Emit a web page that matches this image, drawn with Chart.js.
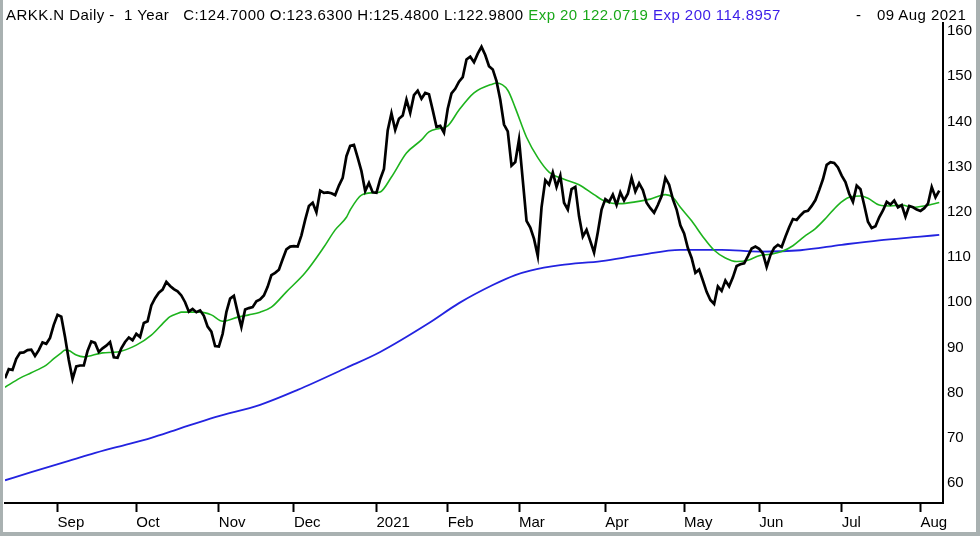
<!DOCTYPE html>
<html>
<head>
<meta charset="utf-8">
<title>ARKK.N Daily - 1 Year</title>
<script src="https://cdn.jsdelivr.net/npm/chart.js@4.4.1/dist/chart.umd.min.js"></script>
<style>
  html, body { margin: 0; padding: 0; background: #fff; }
  #wrap { position: relative; width: 980px; height: 536px; overflow: hidden; background: #fff; }
  #chart { position: absolute; left: 0; top: 0; }
  .hdr { position: absolute; top: 6px; font: 15px "Liberation Sans", Arial, sans-serif; line-height: 17px; letter-spacing: 0.45px; white-space: pre; color: #000; }
  .g { color: #1aa81a; }
  .b { color: #3b1de8; }
  .edge { position: absolute; background: #a9b1b1; }
</style>
</head>
<body>
<div id="wrap">
  <canvas id="chart" width="980" height="536"></canvas>
  <div class="hdr" style="left:6px">ARKK.N Daily -  1 Year   C:124.7000 O:123.6300 H:125.4800 L:122.9800 <span class="g">Exp 20 122.0719</span> <span class="b">Exp 200 114.8957</span></div>
  <div class="hdr" style="left:856px">-</div>
  <div class="hdr" style="left:877px">09 Aug 2021</div>
  <div class="edge" style="left:0;top:0;width:3px;height:536px"></div>
  <div class="edge" style="left:976px;top:0;width:4px;height:536px"></div>
  <div class="edge" style="left:0;top:532px;width:980px;height:4px"></div>
</div>
<script>
// trading-day index of the first session of each month, and its label
const monthIdx = [14, 35, 57, 77, 99, 118, 137, 160, 181, 201, 223, 244];
const monthLabels = ["Sep", "Oct", "Nov", "Dec", "2021", "Feb", "Mar", "Apr", "May", "Jun", "Jul", "Aug"];
const yTicks = [60, 70, 80, 90, 100, 110, 120, 130, 140, 150, 160];

// daily close, 12 Aug 2020 .. 09 Aug 2021 (250 sessions)
const closes = [
  83.2, 85.2, 85.0, 87.5, 88.8, 88.9, 89.4, 89.5, 88.1, 89.4,
  91.1, 90.8, 92.1, 95.0, 97.2, 96.8, 92.3, 87.2, 83.0, 85.8,
  86.0, 86.0, 89.2, 91.3, 91.0, 89.0, 89.8, 90.4, 91.2, 87.8,
  87.7, 89.8, 91.2, 92.2, 91.6, 93.0, 92.3, 95.4, 95.8, 99.3,
  100.9, 102.1, 102.8, 104.5, 103.6, 102.9, 102.4, 101.5, 100.0, 97.9,
  98.5, 97.8, 98.2, 97.0, 94.6, 93.5, 90.3, 90.2, 93.0, 97.8,
  100.8, 101.4, 97.8, 94.5, 98.4, 98.7, 98.9, 100.2, 100.6, 101.5,
  103.4, 106.0, 106.5, 107.2, 109.5, 111.7, 112.3, 112.4, 112.3, 114.8,
  118.2, 121.3, 122.0, 119.9, 124.7, 124.2, 124.3, 124.1, 123.7, 125.8,
  127.5, 132.3, 134.6, 134.8, 132.0, 129.0, 124.6, 126.4, 124.3, 124.2,
  127.2, 129.5, 138.0, 141.8, 138.1, 140.6, 141.3, 144.8, 141.9, 145.8,
  146.8, 145.0, 146.3, 146.0, 142.5, 138.8, 139.0, 137.5, 142.8, 146.2,
  147.2, 148.8, 149.8, 153.7, 154.3, 153.1, 155.0, 156.5, 154.7, 152.2,
  151.5, 148.9, 144.8, 139.3, 137.8, 130.2, 131.0, 136.0, 127.0, 118.0,
  116.5, 114.0, 110.2, 121.0, 127.0, 126.0, 128.7, 125.5, 128.0, 122.0,
  120.5, 125.0, 125.5, 119.0, 114.5, 116.0, 113.5, 111.0, 115.5, 120.5,
  122.8, 122.2, 123.8, 121.5, 124.3, 122.5, 124.0, 127.5, 124.5, 126.3,
  124.8, 122.0, 120.8, 119.8, 121.5, 123.5, 127.5, 126.0, 122.8, 120.5,
  117.0, 115.2, 112.0, 109.8, 106.5, 107.2, 104.8, 102.3, 100.5, 99.6,
  103.5, 102.5, 104.8, 103.5, 105.5, 108.0, 108.4, 108.6, 110.2, 111.9,
  112.3, 111.8, 110.8, 107.8, 110.4, 112.0, 112.7, 112.2, 114.5, 116.6,
  118.4, 118.2, 119.2, 120.0, 120.2, 121.3, 122.6, 124.8, 127.2, 130.4,
  131.0, 130.8, 129.8, 128.0, 126.6, 124.0, 122.2, 125.8, 125.0, 121.5,
  117.8, 116.4, 116.8, 118.8, 120.3, 122.2, 121.6, 122.5, 121.0, 121.5,
  118.9, 121.3, 121.0, 120.5, 120.2, 120.8, 121.8, 125.5, 123.2, 124.7
];

// Exp 20, read at these session indexes
const ema20Day = [0, 4, 7, 11, 13, 15, 16, 17, 19, 21, 26, 30, 35, 39, 43, 44, 46, 47, 52, 55,
  58, 62, 65, 68, 71, 75, 80, 85, 88, 91, 92, 95, 98, 100, 103, 107, 111, 113, 116, 118,
  121, 125, 130, 131, 134, 136, 139, 142, 145, 149, 153, 157, 160, 164, 168, 172, 176, 178, 180, 183,
  186, 189, 192, 195, 198, 201, 204, 207, 210, 213, 216, 219, 222, 225, 228, 230, 233, 236, 239, 242,
  245, 249];
const ema20Val = [81.2, 83.2, 84.4, 86.1, 87.5, 88.8, 89.4, 89.3, 88.3, 87.9, 88.8, 89.0, 90.5, 92.7, 96.1, 96.8, 97.5, 97.8, 97.8, 97.2,
  95.8, 96.7, 97.2, 97.8, 98.9, 102.3, 106.5, 112.2, 116.0, 118.8, 120.4, 123.7, 124.2, 124.4, 127.7, 133.0, 135.9, 137.7, 138.5, 139.0,
  142.5, 146.3, 148.3, 148.5, 146.9, 143.0, 136.5, 132.0, 128.8, 127.2, 126.0, 123.8, 122.3, 121.8, 122.2, 122.8, 123.8, 123.2, 121.0, 118.0,
  114.5, 111.5, 109.8, 109.0, 109.3, 110.3, 110.6, 111.2, 112.5, 114.5, 116.3, 118.8, 121.5, 123.2, 123.5, 123.0, 121.5, 121.3, 121.5, 121.0,
  121.3, 122.07];

// Exp 200
const ema200Day = [0, 7, 17, 23, 30, 39, 45, 56, 68, 78, 91, 100, 113, 121, 130, 136, 140, 148, 159, 169,
  180, 191, 201, 212, 223, 233, 244, 249];
const ema200Val = [60.6, 62.4, 64.9, 66.4, 68.0, 70.0, 71.6, 74.6, 77.3, 80.6, 85.5, 89.0, 95.4, 99.8, 103.8, 106.0, 107.0, 108.2, 109.1, 110.4,
  111.6, 111.6, 111.2, 111.5, 112.7, 113.7, 114.5, 114.9];

const FONT = { family: "'Liberation Sans', Arial, sans-serif", size: 15 };

const pts = (days, vals) => days.map((d, i) => ({ x: d, y: vals[i] }));

new Chart(document.getElementById("chart"), {
  type: "line",
  data: {
    datasets: [
      {
        label: "ARKK.N",
        data: closes.map((v, i) => ({ x: i, y: v })),
        borderColor: "#000",
        borderWidth: 2.7,
        pointRadius: 0,
        tension: 0
      },
      {
        label: "Exp 20",
        data: pts(ema20Day, ema20Val),
        borderColor: "#1db31d",
        borderWidth: 1.6,
        pointRadius: 0,
        cubicInterpolationMode: "monotone"
      },
      {
        label: "Exp 200",
        data: pts(ema200Day, ema200Val),
        borderColor: "#2323e0",
        borderWidth: 1.8,
        pointRadius: 0,
        cubicInterpolationMode: "monotone"
      }
    ]
  },
  options: {
    responsive: false,
    animation: false,
    layout: { padding: { left: 5, top: 23, right: 0, bottom: 0 } },
    plugins: { legend: { display: false }, tooltip: { enabled: false } },
    scales: {
      x: {
        type: "linear",
        position: "bottom",
        min: 0,
        max: 250,
        afterBuildTicks: s => { s.ticks = monthIdx.map(v => ({ value: v })); },
        afterFit: s => { s.height = 33; },
        ticks: {
          autoSkip: false,
          maxRotation: 0,
          align: "start",
          padding: 2,
          color: "#000",
          font: FONT,
          callback: (v, i) => monthLabels[i]
        },
        grid: { drawOnChartArea: false, drawTicks: true, tickLength: 9, tickWidth: 2, tickColor: "#000" },
        border: { display: true, color: "#000", width: 2 }
      },
      y: {
        position: "right",
        min: 55.58,
        max: 161.77,
        afterBuildTicks: s => { s.ticks = yTicks.map(v => ({ value: v })); },
        afterFit: s => { s.width = 37; },
        ticks: { padding: 4, color: "#000", font: FONT },
        grid: { drawOnChartArea: false, drawTicks: false },
        border: { display: true, color: "#000", width: 2 }
      }
    }
  }
});
</script>
</body>
</html>
